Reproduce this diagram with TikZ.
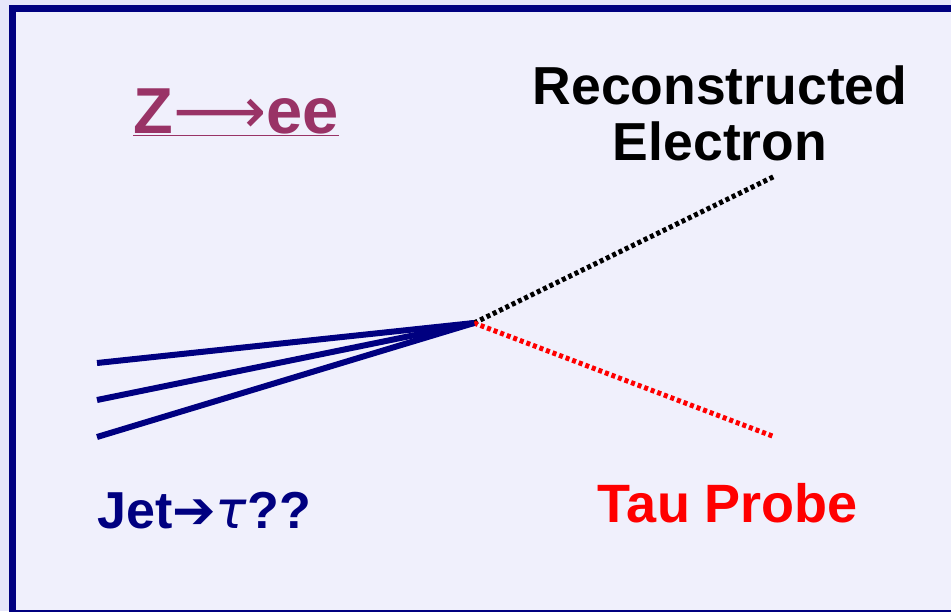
\documentclass[tikz,border=0pt]{standalone}
\usepackage{fontspec}
\setmainfont{Liberation Sans}
\newfontfamily\symfont{DejaVu Sans}
\usepackage{tikz}
\usetikzlibrary{positioning}

\definecolor{bgout}{HTML}{E6E6FA}
\definecolor{bgin}{HTML}{F0F0FC}
\definecolor{zcol}{HTML}{993366}
\definecolor{jetcol}{HTML}{000080}

\begin{document}
\begin{tikzpicture}[
    x=1pt, y=-1pt,
    label/.style={font=\bfseries, inner sep=0pt, align=center},
    jet/.style={draw=jetcol, line width=6pt},
    track/.style={line width=5pt, dash pattern=on 4pt off 3pt}
]

% page and frame
\useasboundingbox (0,0) rectangle (951,611);
\fill[bgout] (0,0) rectangle (951,611);
\begin{scope}
    \clip (0,0) rectangle (951,611);
    \fill[bgin, draw=jetcol, line width=7pt] (12.5,8.5) rectangle (960,613);
\end{scope}

% vertex and end points
\coordinate (vtx) at (474,323);
\coordinate (ele) at (775,176);
\coordinate (tau) at (775,437);
\coordinate (j1) at (97,363);
\coordinate (j2) at (97,400);
\coordinate (j3) at (97,437);

\draw[track, black] (vtx) -- (ele);
\draw[track, red] (vtx) -- (tau);
\foreach \j in {j1,j2,j3}
    \draw[jet, line cap=butt] (\j) -- (vtx);

% labels
\node[label, text=zcol, font=\bfseries\fontsize{65}{65}\selectfont] (title) at (236,112)
    {\underline{Z{\mdseries\symfont ⟶}ee}};
\node[label, font=\bfseries\fontsize{53.5}{56}\selectfont] (recon) at (720,113)
    {Reconstructed\\Electron};
\node[label, text=jetcol, font=\bfseries\fontsize{52}{52}\selectfont, anchor=west] (jetlbl) at (97,511)
    {Jet{\symfont ➔}{\symfont\mdseries\itshape τ}??};
\node[label, text=red, font=\bfseries\fontsize{54}{54}\selectfont] (probe) at (728,503)
    {Tau Probe};

\end{tikzpicture}
\end{document}
